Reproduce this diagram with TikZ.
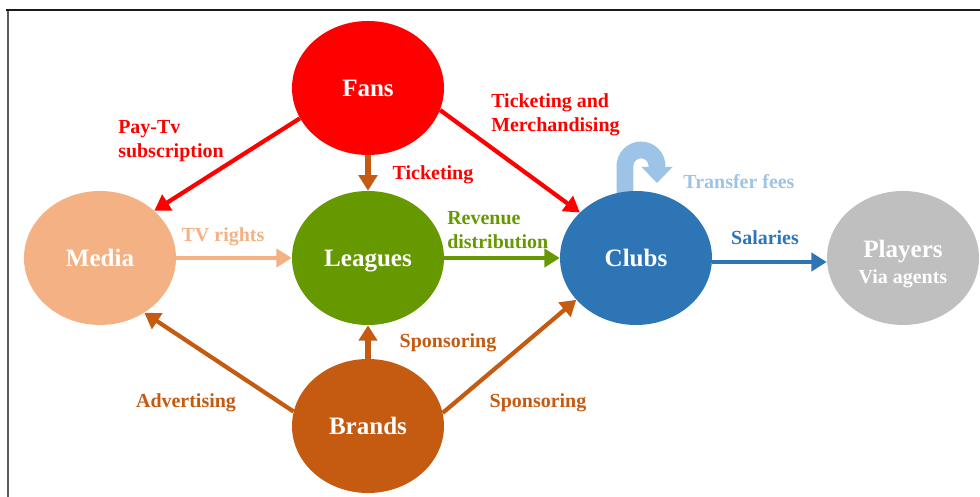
\documentclass[tikz,border=0pt]{standalone}
\usepackage{fontspec}
\setmainfont{Liberation Serif}
\usetikzlibrary{shapes.geometric, arrows.meta}
\definecolor{fansred}{HTML}{FF0000}
\definecolor{mediapeach}{HTML}{F4B183}
\definecolor{leaguegreen}{HTML}{669900}
\definecolor{clubblue}{HTML}{2E75B6}
\definecolor{playergray}{HTML}{BFBFBF}
\definecolor{brandbrown}{HTML}{C55A11}
\definecolor{transferblue}{HTML}{9DC3E6}
\tikzset{
    actor/.style={ellipse, fill, draw=none, minimum width=3.8cm,
    	minimum height=3.35cm, inner sep=0pt, text=white, align=center,
    	font=\fontsize{17.8}{20}\selectfont\bfseries}
}
\tikzset{
    every edge/.append style={line width=3pt,
    	-{Triangle[length=11pt,width=13pt]}}
}
\tikzset{
	tag/.style={inner sep=0pt, align=left,
		font=\fontsize{14.2}{17}\selectfont\bfseries}
}
\pgfdeclarelayer{background}
\pgfsetlayers{background,main}

\begin{document}
\begin{tikzpicture}
	\useasboundingbox (-9.2cm, -5.975cm) rectangle (15.3cm, 6.45cm);
	\draw [line width=1.4pt, black!65] (-9.0cm, -7.0cm) -- (-9.0cm, 6.19cm);
	\draw [line width=1.4pt, black!90] (-9.05cm, 6.19cm) -- (16.0cm, 6.19cm);

	\node (fans) [actor, fill=fansred] at (0.0cm, 4.25cm) {Fans};
	\node (media) [actor, fill=mediapeach, text depth=0pt]
		at (-6.7cm, 0.0cm) {Media};
	\node (leagues) [actor, fill=leaguegreen, text depth=0pt]
		at (0.0cm, 0.0cm) {Leagues};
	\node (clubs) [actor, fill=clubblue, text depth=0pt]
		at (6.7cm, 0.0cm) {Clubs};
	\node (players) [actor, fill=playergray] at (13.375cm, 0.0cm)
		{\rule{0pt}{21pt}Players\\[-2pt]{\fontsize{14.2}{17}\selectfont Via agents}};
	\node (brands) [actor, fill=brandbrown] at (0.0cm, -4.2cm) {Brands};

	\coordinate (tf1) at (6.425cm, 1.2cm);
	\coordinate (tf2) at (7.225cm, 1.875cm);
	\begin{pgfonlayer}{background}
		\draw [line width=12pt, color=transferblue,
			-{Triangle[length=11.4pt,width=21.5pt]}]
			(tf1) -- (6.425cm, 2.3cm) arc (180:0:0.4cm) -- (tf2);
	\end{pgfonlayer}

	\draw (fans.204) edge [color=fansred] (media.41);
	\draw (fans) edge [color=brandbrown, line width=4.2pt] (leagues);
	\draw (fans.-17) edge [color=fansred] (clubs.141);
	\draw (media) edge [color=mediapeach] (leagues);
	\draw (leagues) edge [color=leaguegreen] (clubs);
	\draw ([yshift=-0.1cm]clubs.east) edge [color=clubblue]
		([yshift=-0.1cm]players.west);
	\draw (brands.169) edge [color=brandbrown] (media.-51);
	\draw (brands) edge [color=brandbrown, line width=4.2pt] (leagues);
	\draw (brands.10) edge [color=brandbrown] (clubs.-145);

	\node (paytv) [tag, text=fansred, anchor=west] at (-6.25cm, 2.93cm)
		{Pay-Tv\\subscription};
	\node (tick) [tag, text=fansred] at (1.625cm, 2.08cm) {Ticketing};
	\node (merch) [tag, text=fansred, anchor=west] at (3.075cm, 3.57cm)
		{Ticketing and\\Merchandising};
	\node (tvr) [tag, text=mediapeach] at (-3.625cm, 0.53cm) {TV rights};
	\node (rev) [tag, text=leaguegreen, anchor=west] at (1.975cm, 0.7cm)
		{Revenue\\distribution};
	\node (trf) [tag, text=transferblue] at (9.275cm, 1.9cm) {Transfer fees};
	\node (sal) [tag, text=clubblue] at (9.925cm, 0.5cm) {Salaries};
	\node (spl) [tag, text=brandbrown] at (2.0cm, -2.12cm) {Sponsoring};
	\node (spc) [tag, text=brandbrown] at (4.25cm, -3.62cm) {Sponsoring};
	\node (adv) [tag, text=brandbrown] at (-4.55cm, -3.62cm) {Advertising};
\end{tikzpicture}
\end{document}
